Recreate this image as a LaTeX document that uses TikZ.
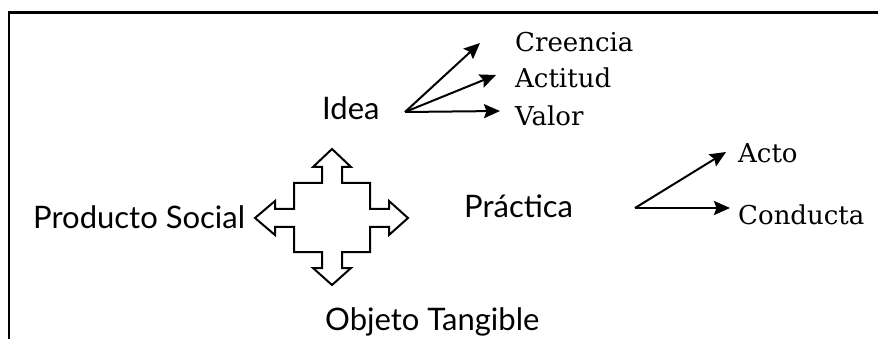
\documentclass[tikz,border=0pt]{standalone}
\usepackage{fontspec}
\setmainfont{DejaVu Serif}
\newfontfamily\sansfnt{Lato}
\usetikzlibrary{positioning,arrows.meta}

\begin{document}
\begin{tikzpicture}[x=1pt,y=-1pt,
    sans/.style={font=\sansfnt\fontsize{31}{31}\selectfont, inner sep=0pt, anchor=base west},
    serif/.style={font=\fontsize{26}{26}\selectfont, inner sep=0pt, anchor=base west},
    fan/.style={-{Stealth[length=16pt,width=14pt,inset=2.5pt]}, line width=2pt}]
  \useasboundingbox (0,0) rectangle (878,339);
  \draw[line width=2.6pt] (9,339) -- (9,12.5) -- (878,12.5);

  \node[sans] (idea) at (322,120) {Idea};
  \node[sans] (prod) at (33,229) {Producto Social};
  \node[sans] (prac) at (464,218) {Práctica};
  \node[sans] (obj) at (325,330) {Objeto Tangible};

  \node[serif] (cre) at (515,52) {Creencia};
  \node[serif] (act) at (515,88) {Actitud};
  \node[serif] (val) at (515,126) {Valor};
  \node[serif] (acto) at (738,163) {Acto};
  \node[serif] (cond) at (738,225) {Conducta};

  % cross of four arrows
  \draw[line width=2pt, shift={(332,218)}]
    (0,-69) -- (19,-51) -- (10,-51) -- (10,-35) -- (38,-35) -- (38,-9)
    -- (57,-9) -- (57,-17) -- (76,0) -- (57,17) -- (57,9) -- (38,9)
    -- (38,34) -- (10,34) -- (10,50) -- (19,50) -- (0,67) -- (-19,50)
    -- (-10,50) -- (-10,34) -- (-38,34) -- (-38,9) -- (-57,9) -- (-57,17)
    -- (-77,0) -- (-57,-17) -- (-57,-9) -- (-38,-9) -- (-38,-35)
    -- (-10,-35) -- (-10,-51) -- (-19,-51) -- cycle;

  \coordinate (ifan) at (405,112);
  \coordinate (pfan) at (635,208);
  \draw[fan] (ifan) -- ([xshift=-35pt,yshift=9pt]cre.base west);
  \draw[fan] (ifan) -- ([xshift=-19pt,yshift=13pt]act.base west);
  \draw[fan] (ifan) -- ([xshift=-15pt,yshift=15pt]val.base west);
  \draw[fan] (pfan) -- ([xshift=-12pt,yshift=11pt]acto.base west);
  \draw[fan] (pfan) -- ([xshift=-8pt,yshift=17pt]cond.base west);
\end{tikzpicture}
\end{document}
